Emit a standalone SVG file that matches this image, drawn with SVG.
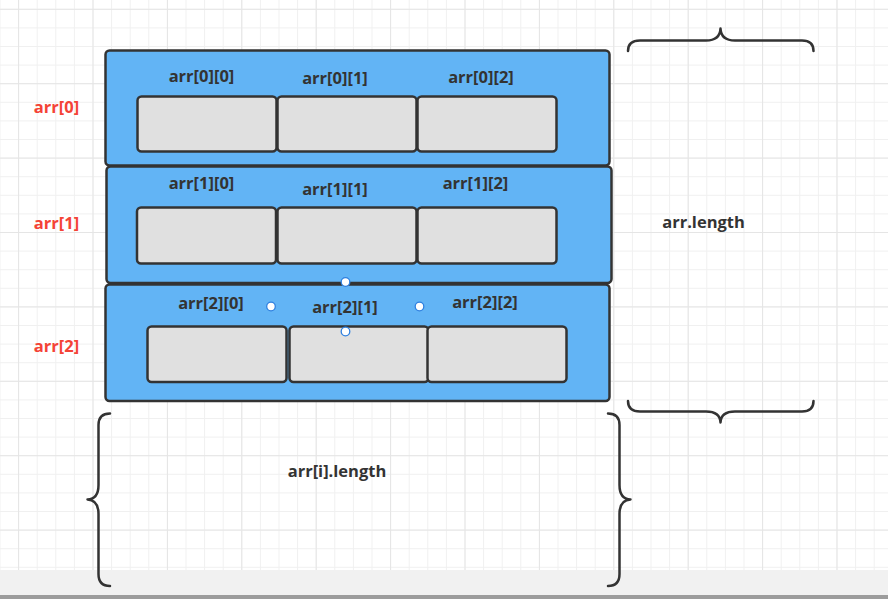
<svg xmlns="http://www.w3.org/2000/svg" width="888" height="599" viewBox="0 0 888 599">
<style>
.row{fill:#62b4f5;stroke:#333333;stroke-width:2.5}
.cell{fill:#e0e0e0;stroke:#333333;stroke-width:2.5}
.lbl{font-family:"Open Sans","Liberation Sans",sans-serif;font-weight:700;font-size:16.5px;fill:#333333;text-anchor:middle;dominant-baseline:central}
.red{font-family:"Open Sans","Liberation Sans",sans-serif;font-weight:700;font-size:16.5px;fill:#f44336;text-anchor:middle;dominant-baseline:central}
.brace{fill:none;stroke:#333333;stroke-width:2.5;stroke-linecap:round;stroke-linejoin:round}
.pt{fill:#ffffff;stroke:#2f80e0;stroke-width:1.3}
</style>
<defs>
<pattern id="minor" patternUnits="userSpaceOnUse" x="-0.5" y="8.8" width="18.6" height="18.6">
<rect x="0" y="0" width="1" height="18.6" fill="#f0f0f0"/>
<rect x="0" y="0" width="18.6" height="1" fill="#f0f0f0"/>
</pattern>
<pattern id="major" patternUnits="userSpaceOnUse" x="18.1" y="8.8" width="74.4" height="74.4">
<rect x="0" y="0" width="1" height="74.4" fill="#e5e5e5"/>
<rect x="0" y="0" width="74.4" height="1" fill="#e5e5e5"/>
</pattern>
</defs>
<rect x="0" y="0" width="888" height="599" fill="#ffffff"/>
<rect x="0" y="0" width="888" height="570" fill="url(#minor)"/>
<rect x="0" y="0" width="888" height="570" fill="url(#major)"/>
<rect x="0" y="570" width="888" height="25" fill="#f1f1f1"/>
<rect x="0" y="595" width="888" height="4" fill="#9c9c9c"/>

<g id="row0">
<rect class="row" x="105.5" y="50.5" width="504" height="115" rx="4"/>
<text class="lbl" x="201.5" y="75">arr[0][0]</text>
<text class="lbl" x="335" y="77">arr[0][1]</text>
<text class="lbl" x="481" y="76">arr[0][2]</text>
</g>
<g id="cell00"><rect class="cell" x="137.5" y="96.5" width="139" height="55" rx="4"/></g>
<g id="cell01"><rect class="cell" x="277.5" y="96.5" width="139" height="55" rx="4"/></g>
<g id="cell02"><rect class="cell" x="417.5" y="96.5" width="139" height="55" rx="4"/></g>

<g id="row1">
<rect class="row" x="106.5" y="166.5" width="505" height="116.5" rx="4"/>
<text class="lbl" x="201.5" y="182.5">arr[1][0]</text>
<text class="lbl" x="335" y="188">arr[1][1]</text>
<text class="lbl" x="475.5" y="182.5">arr[1][2]</text>
</g>
<g id="cell10"><rect class="cell" x="137" y="207.5" width="139" height="56" rx="4"/></g>
<g id="cell11"><rect class="cell" x="277.5" y="207.5" width="139" height="56" rx="4"/></g>
<g id="cell12"><rect class="cell" x="417.5" y="207.5" width="139" height="56" rx="4"/></g>

<g id="row2">
<rect class="row" x="105.5" y="284.5" width="504" height="116.5" rx="4"/>
<text class="lbl" x="211" y="302">arr[2][0]</text>
<text class="lbl" x="345" y="306.5">arr[2][1]</text>
<text class="lbl" x="485" y="301">arr[2][2]</text>
</g>
<g id="cell20"><rect class="cell" x="147.5" y="326.5" width="139" height="55.5" rx="4"/></g>
<g id="cell21"><rect class="cell" x="289.5" y="326.5" width="139" height="55.5" rx="4"/></g>
<g id="cell22"><rect class="cell" x="427.5" y="326.5" width="139" height="55.5" rx="4"/></g>

<g id="labels">
<text class="red" x="56.5" y="106">arr[0]</text>
<text class="red" x="56.5" y="222">arr[1]</text>
<text class="red" x="56.5" y="345">arr[2]</text>
<text class="lbl" x="703.5" y="221.5">arr.length</text>
<text class="lbl" x="337" y="470.5">arr[i].length</text>
</g>

<g id="braces">
<path class="brace" d="M628,51 Q628,40.5 640,40.5 H706 Q720,40.5 720.5,28.5 Q721,40.5 735,40.5 H802 Q813.5,40.5 813.5,51"/>
<path class="brace" d="M628,401 Q628,411.5 640,411.5 H706 Q720,411.5 720.5,422.5 Q721,411.5 735,411.5 H802 Q813.5,411.5 813.5,401"/>
<path class="brace" d="M110,413.5 Q98.5,413.5 98.5,425 V485 Q98.5,499 87.5,499.5 Q98.5,500 98.5,514 V574 Q98.5,586 110,586"/>
<path class="brace" d="M608,413.5 Q619.5,413.5 619.5,425 V485 Q619.5,499 630.5,499.5 Q619.5,500 619.5,514 V574 Q619.5,586 608,586"/>
</g>

<g id="points">
<circle class="pt" cx="345.5" cy="282" r="4.3"/>
<circle class="pt" cx="271" cy="306.5" r="4.3"/>
<circle class="pt" cx="419.5" cy="306.5" r="4.3"/>
<circle class="pt" cx="345.5" cy="331.5" r="4.3"/>
</g>
</svg>
